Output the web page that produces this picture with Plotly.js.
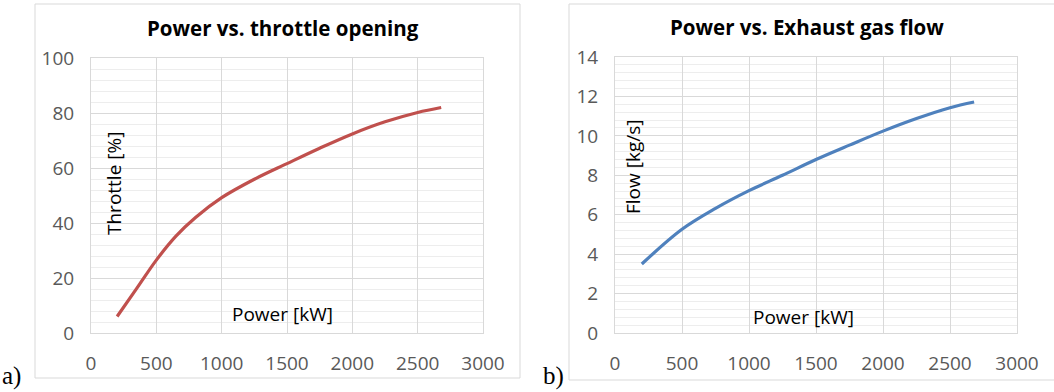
<!DOCTYPE html>
<html>
<head>
<meta charset="utf-8">
<script src="https://cdn.plot.ly/plotly-3.0.1.min.js"></script>
<style>html,body{margin:0;padding:0;background:#fff;}#chart{width:1054px;height:392px;}</style>
</head>
<body>
<div id="chart"></div>
<script>
// Chart a) Power vs. throttle opening
const powerA = [200, 350, 500, 650, 800, 1000, 1250, 1500, 1750, 2000, 2250, 2500, 2680];
const throttle = [6, 16.2, 26.5, 35.2, 42.0, 49.2, 55.9, 61.6, 67.2, 72.4, 76.8, 80.2, 82];
// Chart b) Power vs. Exhaust gas flow
const powerB = [200, 500, 750, 1000, 1250, 1500, 1750, 2000, 2250, 2500, 2680];
const flow = [3.5, 5.26, 6.32, 7.22, 8.0, 8.8, 9.53, 10.24, 10.88, 11.43, 11.72];

const titleA = 'Power vs. throttle opening';
const titleB = 'Power vs. Exhaust gas flow';
const xLabel = 'Power [kW]';
const yLabelA = 'Throttle [%]';
const yLabelB = 'Flow [kg/s]';
const xTicks = [0, 500, 1000, 1500, 2000, 2500, 3000];

const W = 1054, H = 392;
const px = x => x / W;
const py = y => 1 - y / H;

const tickFont = {family: 'Open Sans, sans-serif', size: 19, color: '#595959'};
const major = '#D9D9D9', minor = '#EDEDED';

function xaxis(dom, anchor) {
  return {domain: dom, anchor: anchor, range: [0, 3000], tickvals: xTicks, ticks: '',
    showgrid: true, gridcolor: major, gridwidth: 1, zeroline: false,
    showline: true, linecolor: major, mirror: true, tickfont: tickFont,
    ticklabelstandoff: 13, fixedrange: true};
}
function yaxis(dom, anchor, range, dt, mdt) {
  return {domain: dom, anchor: anchor, range: range, dtick: dt, ticks: '',
    showgrid: true, gridcolor: major, zeroline: false,
    minor: {dtick: mdt, showgrid: true, gridcolor: minor, ticks: ''},
    showline: true, linecolor: major, mirror: true, tickfont: tickFont,
    ticklabelstandoff: 12, fixedrange: true};
}

const traces = [
  {x: powerA, y: throttle, xaxis: 'x', yaxis: 'y', mode: 'lines',
   line: {color: '#C0504D', width: 3.2, shape: 'spline', smoothing: 1}},
  {x: powerB, y: flow, xaxis: 'x2', yaxis: 'y2', mode: 'lines',
   line: {color: '#4F81BD', width: 3.2, shape: 'spline', smoothing: 1}}
];

const lblFont = {family: 'Open Sans, sans-serif', size: 19, color: '#000'};
const ttlFont = {family: 'Open Sans, sans-serif', size: 20.5, color: '#000', weight: 'bold'};
const serif = {family: 'Liberation Serif, Times New Roman, serif', size: 25, color: '#000'};

const layout = {
  width: W, height: H, margin: {l: 0, r: 0, t: 0, b: 0},
  paper_bgcolor: '#fff', plot_bgcolor: '#fff', showlegend: false,
  xaxis: xaxis([px(91), px(483)], 'y'),
  yaxis: yaxis([py(333), py(58)], 'x', [0, 100], 20, 4),
  xaxis2: xaxis([px(615), px(1017)], 'y2'),
  yaxis2: yaxis([py(333), py(57)], 'x2', [0, 14], 2, 0.4),
  shapes: [
    {type: 'rect', xref: 'paper', yref: 'paper', x0: px(35), x1: px(520), y0: py(4), y1: py(378), line: {color: '#D9D9D9', width: 1}},
    {type: 'rect', xref: 'paper', yref: 'paper', x0: px(569), x1: px(1060), y0: py(4), y1: py(380), line: {color: '#D9D9D9', width: 1}}
  ],
  annotations: [
    {text: titleA, xref: 'paper', yref: 'paper', x: px(283), y: py(28), showarrow: false, font: ttlFont, xanchor: 'center', yanchor: 'middle'},
    {text: titleB, xref: 'paper', yref: 'paper', x: px(807), y: py(27), showarrow: false, font: ttlFont, xanchor: 'center', yanchor: 'middle'},
    {text: xLabel, xref: 'paper', yref: 'paper', x: px(282), y: py(314), showarrow: false, font: lblFont, xanchor: 'center', yanchor: 'middle'},
    {text: xLabel, xref: 'paper', yref: 'paper', x: px(803), y: py(317), showarrow: false, font: lblFont, xanchor: 'center', yanchor: 'middle'},
    {text: yLabelA, xref: 'paper', yref: 'paper', x: px(114), y: py(184), showarrow: false, font: lblFont, textangle: -90, xanchor: 'center', yanchor: 'middle'},
    {text: yLabelB, xref: 'paper', yref: 'paper', x: px(633), y: py(167), showarrow: false, font: lblFont, textangle: -90, xanchor: 'center', yanchor: 'middle'},
    {text: 'a)', xref: 'paper', yref: 'paper', x: px(0), y: py(376), showarrow: false, font: serif, xanchor: 'left', yanchor: 'middle'},
    {text: 'b)', xref: 'paper', yref: 'paper', x: px(541), y: py(376), showarrow: false, font: serif, xanchor: 'left', yanchor: 'middle'}
  ]
};

Plotly.newPlot('chart', traces, layout, {staticPlot: true, displayModeBar: false});
</script>
</body>
</html>
